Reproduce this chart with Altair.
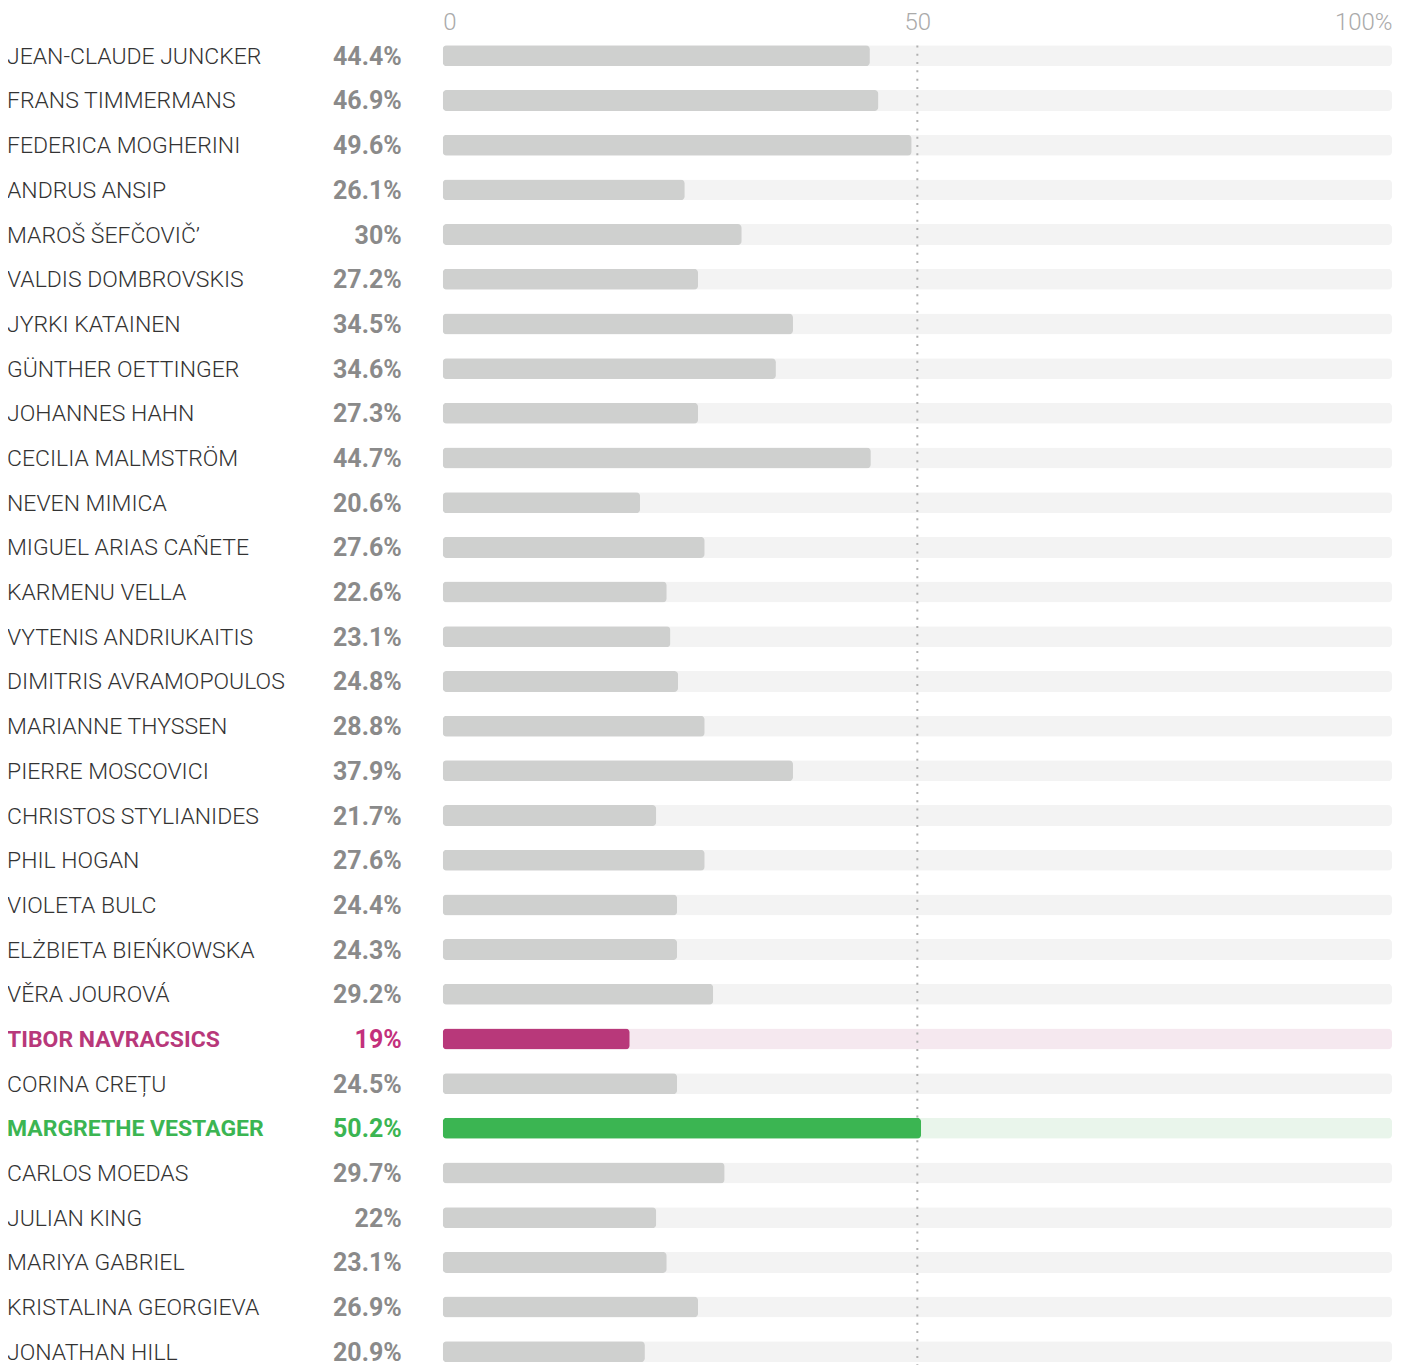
import altair as alt
import pandas as pd

names = [
    "JEAN-CLAUDE JUNCKER", "FRANS TIMMERMANS", "FEDERICA MOGHERINI", "ANDRUS ANSIP",
    "MAROŠ ŠEFČOVIČ’", "VALDIS DOMBROVSKIS", "JYRKI KATAINEN", "GÜNTHER OETTINGER",
    "JOHANNES HAHN", "CECILIA MALMSTRÖM", "NEVEN MIMICA", "MIGUEL ARIAS CAÑETE",
    "KARMENU VELLA", "VYTENIS ANDRIUKAITIS", "DIMITRIS AVRAMOPOULOS", "MARIANNE THYSSEN",
    "PIERRE MOSCOVICI", "CHRISTOS STYLIANIDES", "PHIL HOGAN", "VIOLETA BULC",
    "ELŻBIETA BIEŃKOWSKA", "VĚRA JOUROVÁ", "TIBOR NAVRACSICS", "CORINA CREȚU",
    "MARGRETHE VESTAGER", "CARLOS MOEDAS", "JULIAN KING", "MARIYA GABRIEL",
    "KRISTALINA GEORGIEVA", "JONATHAN HILL",
]
share_labels = [
    "44.4%", "46.9%", "49.6%", "26.1%", "30%", "27.2%", "34.5%", "34.6%",
    "27.3%", "44.7%", "20.6%", "27.6%", "22.6%", "23.1%", "24.8%", "28.8%",
    "37.9%", "21.7%", "27.6%", "24.4%", "24.3%", "29.2%", "19%", "24.5%",
    "50.2%", "29.7%", "22%", "23.1%", "26.9%", "20.9%",
]
# bar lengths as drawn in the picture (percent of the 0-100 scale)
bar_values = [
    45.0, 45.9, 49.4, 25.5, 31.5, 26.9, 36.9, 35.1,
    26.9, 45.1, 20.8, 27.6, 23.6, 24.0, 24.8, 27.6,
    36.9, 22.5, 27.6, 24.7, 24.7, 28.5, 19.7, 24.7,
    50.4, 29.7, 22.5, 23.6, 26.9, 21.3,
]
highlight = {"TIBOR NAVRACSICS": "low", "MARGRETHE VESTAGER": "high"}
axis_ticks = [0, 50, 100]
full_scale = [100] * len(names)

groups = ["none", "low", "high"]
bar_colors = ["#cfd0cf", "#b8387a", "#3bb552"]
track_colors = ["#f3f3f3", "#f5e8ef", "#e9f5eb"]
name_colors = ["#333333", "#b8387a", "#3bb552"]
pct_colors = ["#8a8a8a", "#c3307c", "#3bb552"]

df = pd.DataFrame({"name": names, "label": share_labels, "bar": bar_values, "full": full_scale})
df["group"] = [highlight.get(n, "none") for n in names]

ROW = 44.72
N = len(names)
W = 950
H = 1340
FONT = "Roboto"

y_enc = alt.Y(
    "name:N", sort=names, axis=None,
    scale=alt.Scale(range=[0, ROW * N], paddingInner=0, paddingOuter=0),
)

def cscale(rng):
    return alt.Scale(domain=groups, range=rng)

base = alt.Chart(df)

track = base.mark_bar(height=21, cornerRadius=4).encode(
    x=alt.X(
        "full:Q",
        scale=alt.Scale(domain=[0, 100], nice=False),
        title=None,
        axis=alt.Axis(
            orient="top", values=axis_ticks, grid=False, domain=False, ticks=False,
            tickSize=0, labelPadding=4, labelBaseline="alphabetic",
            labelFont=FONT, labelFontSize=24, labelFontWeight=300, labelColor="#aaaaaa",
            labelExpr="datum.value == 100 ? '100%' : datum.label",
            labelAlign={"expr": "datum.value == 0 ? 'left' : (datum.value == 100 ? 'right' : 'center')"},
        ),
    ),
    y=y_enc,
    color=alt.Color("group:N", scale=cscale(track_colors), legend=None),
)

rule = alt.Chart(pd.DataFrame({"v": [50]})).mark_rule(
    color="#b0b0b0", strokeWidth=2, strokeDash=[2, 6.3]
).encode(
    x="v:Q",
    y=alt.value(12),
    y2=alt.value(ROW * N),
)

bars = base.mark_bar(height=21, cornerRadius=4).encode(
    x="bar:Q",
    y=y_enc,
    color=alt.Color("group:N", scale=cscale(bar_colors), legend=None),
)

name_plain = base.transform_filter("datum.group == 'none'").mark_text(
    align="left", baseline="middle", font=FONT, fontSize=23, fontWeight=300, dy=1
).encode(
    x=alt.value(-436), y=y_enc, text="name:N",
    color=alt.Color("group:N", scale=cscale(name_colors), legend=None),
)

name_bold = base.transform_filter("datum.group != 'none'").mark_text(
    align="left", baseline="middle", font=FONT, fontSize=23, fontWeight="bold", dy=1
).encode(
    x=alt.value(-436), y=y_enc, text="name:N",
    color=alt.Color("group:N", scale=cscale(name_colors), legend=None),
)

pct = base.mark_text(
    align="right", baseline="middle", font=FONT, fontSize=25, fontWeight="bold", dy=1
).encode(
    x=alt.value(-41), y=y_enc, text="label:N",
    color=alt.Color("group:N", scale=cscale(pct_colors), legend=None),
)

chart = alt.layer(track, rule, bars, name_plain, name_bold, pct).resolve_scale(
    color="independent"
).properties(
    width=W, height=H,
    autosize=alt.AutoSizeParams(type="none"),
    padding={"left": 435, "top": 25, "right": 10, "bottom": 0},
).configure_view(stroke=None)

chart.save("out.html", embed_options={"renderer": "svg", "actions": False})
